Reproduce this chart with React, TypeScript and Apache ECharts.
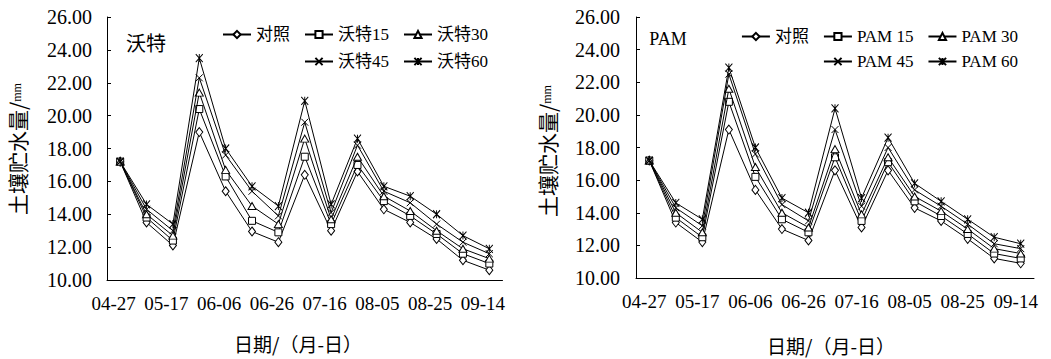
import React, { useEffect, useRef } from "react";
import * as echarts from "echarts";

// ---- data ----
const dates = ["04-27", "05-07", "05-17", "05-27", "06-06", "06-16", "06-26", "07-06", "07-16", "07-26", "08-05", "08-15", "08-25", "09-04", "09-14"];

const Y_MIN = 10;
const Y_MAX = 26;
const Y_STEP = 2;

// left panel (沃特)
const woteNames = ["对照", "沃特15", "沃特30", "沃特45", "沃特60"];
const woteCK = [17.2, 13.5, 12.1, 19.0, 15.4, 12.95, 12.3, 16.4, 13.0, 16.6, 14.3, 13.5, 12.5, 11.2, 10.6];
const wote15 = [17.2, 13.8, 12.4, 20.4, 16.3, 13.6, 12.9, 17.5, 13.4, 17.0, 14.8, 13.9, 12.8, 11.6, 11.0];
const wote30 = [17.2, 14.0, 12.7, 21.4, 16.7, 14.5, 13.4, 18.6, 13.7, 17.5, 15.1, 14.2, 13.0, 11.9, 11.3];
const wote45 = [17.2, 14.3, 13.0, 22.3, 17.6, 15.4, 13.9, 19.6, 14.1, 18.2, 15.4, 14.7, 13.4, 12.3, 11.6];
const wote60 = [17.2, 14.6, 13.4, 23.5, 18.0, 15.7, 14.5, 20.9, 14.6, 18.6, 15.7, 15.1, 14.0, 12.7, 11.9];

// right panel (PAM)
const pamNames = ["对照", "PAM 15", "PAM 30", "PAM 45", "PAM 60"];
const pamCK = [17.2, 13.4, 12.2, 19.1, 15.4, 13.0, 12.3, 16.6, 13.1, 16.6, 14.3, 13.5, 12.4, 11.2, 10.9];
const pam15 = [17.2, 13.7, 12.5, 20.8, 16.2, 13.6, 12.8, 17.4, 13.5, 17.1, 14.7, 13.8, 12.7, 11.5, 11.2];
const pam30 = [17.2, 14.0, 12.8, 21.6, 16.8, 14.0, 13.1, 17.9, 13.9, 17.4, 15.0, 14.1, 13.0, 11.8, 11.5];
const pam45 = [17.2, 14.3, 13.2, 22.5, 17.6, 14.5, 13.5, 19.1, 14.4, 18.0, 15.4, 14.4, 13.3, 12.1, 11.8];
const pam60 = [17.2, 14.6, 13.6, 22.9, 18.0, 14.9, 14.0, 20.4, 14.9, 18.6, 15.8, 14.7, 13.6, 12.5, 12.1];

const woteData = [woteCK, wote15, wote30, wote45, wote60];
const pamData = [pamCK, pam15, pam30, pam45, pam60];

// ---- styles ----
const SERIF = '"Liberation Serif", "Noto Sans CJK SC", serif';
const CJK = '"Noto Sans CJK SC", sans-serif';

const markers = [
  { symbol: "path://M5,0L10,6L5,12L0,6Z", size: [7, 9], fill: "#fff" },
  { symbol: "path://M0,0L10,0L10,10L0,10Z", size: [7, 7], fill: "#fff" },
  { symbol: "path://M5,0L10,9L0,9Z", size: [8, 7], fill: "#fff" },
  { symbol: "path://M0,0L10,10M10,0L0,10", size: [7, 7], fill: "#000" },
  { symbol: "path://M0,0L10,10M10,0L0,10M5,0L5,10", size: [7, 8], fill: "#000" },
];

function makeSeries(names: string[], data: number[][], idx: number) {
  return names.map((name, i) => ({
    type: "line",
    name,
    xAxisIndex: idx,
    yAxisIndex: idx,
    data: data[i],
    symbol: markers[i].symbol,
    symbolSize: markers[i].size,
    showAllSymbol: true,
    lineStyle: { color: "#000", width: 1 },
    itemStyle: { color: markers[i].fill, borderColor: "#000", borderWidth: 1 },
    z: 2 + i,
  }));
}

function xAxis(idx: number, padRight: number) {
  return {
    type: "category",
    gridIndex: idx,
    data: dates,
    boundaryGap: true,
    axisLine: { lineStyle: { color: "#000", width: 1 } },
    axisTick: { inside: true, length: 4, interval: 0, lineStyle: { color: "#000" } },
    axisLabel: {
      interval: 1,
      color: "#000",
      fontFamily: SERIF,
      fontSize: 19,
      margin: 14,
      padding: [0, padRight, 0, 0],
    },
    splitLine: { show: false },
  };
}

function yAxis(idx: number, margin: number) {
  return {
    type: "value",
    gridIndex: idx,
    min: Y_MIN,
    max: Y_MAX,
    interval: Y_STEP,
    axisLine: { show: true, lineStyle: { color: "#000", width: 1 } },
    axisTick: { show: true, inside: true, length: 4, lineStyle: { color: "#000" } },
    axisLabel: {
      color: "#000",
      fontFamily: SERIF,
      fontSize: 20,
      margin,
      formatter: (v: number) => v.toFixed(2),
    },
    splitLine: { show: false },
  };
}

function legend(names: string[], right: number, top: number) {
  return {
    data: names,
    right,
    top,
    orient: "horizontal",
    padding: 0,
    itemWidth: 28,
    itemHeight: 9,
    itemGap: 14,
    selectedMode: false,
    textStyle: { color: "#000", fontFamily: SERIF, fontSize: 17 },
  };
}

function yTitle(x: number, y: number) {
  return {
    type: "text",
    x,
    y,
    rotation: Math.PI / 2,
    style: {
      text: "{a|土壤贮水量/}{b|mm}",
      align: "center",
      verticalAlign: "middle",
      fill: "#000",
      rich: {
        a: { fontFamily: CJK, fontSize: 21, fill: "#000" },
        b: { fontFamily: SERIF, fontSize: 12, fill: "#000" },
      },
    },
  };
}

function plainText(text: string, x: number, y: number, fontFamily: string, fontSize: number) {
  return {
    type: "text",
    x,
    y,
    style: { text, align: "center", verticalAlign: "middle", fill: "#000", fontFamily, fontSize },
  };
}

export default function App() {
  const ref = useRef<HTMLDivElement>(null);

  useEffect(() => {
    if (!ref.current) return;
    const chart = echarts.init(ref.current, undefined, { renderer: "svg" });
    chart.setOption({
      animation: false,
      backgroundColor: "#fff",
      grid: [
        { left: 107, top: 17, width: 395.5, height: 263 },
        { left: 636, top: 17, width: 398, height: 261 },
      ],
      xAxis: [xAxis(0, 13), xAxis(1, 10)],
      yAxis: [yAxis(0, 15), yAxis(1, 16)],
      legend: [
        legend(woteNames.slice(0, 3), 563, 26),
        legend(woteNames.slice(3), 563, 53),
        legend(pamNames.slice(0, 3), 33, 28),
        legend(pamNames.slice(3), 33, 53),
      ],
      series: [...makeSeries(woteNames, woteData, 0), ...makeSeries(pamNames, pamData, 1)],
      graphic: [
        plainText("沃特", 146, 42, CJK, 20),
        plainText("PAM", 668, 39, SERIF, 18),
        plainText("日期/（月-日）", 298, 343, CJK, 19),
        plainText("日期/（月-日）", 831, 345, CJK, 19),
        yTitle(17, 149),
        yTitle(547, 151),
      ],
    });
    return () => chart.dispose();
  }, []);

  return (
    <div
      ref={ref}
      style={{ position: "absolute", left: 0, top: 0, width: 1051, height: 359, background: "#fff" }}
    />
  );
}
